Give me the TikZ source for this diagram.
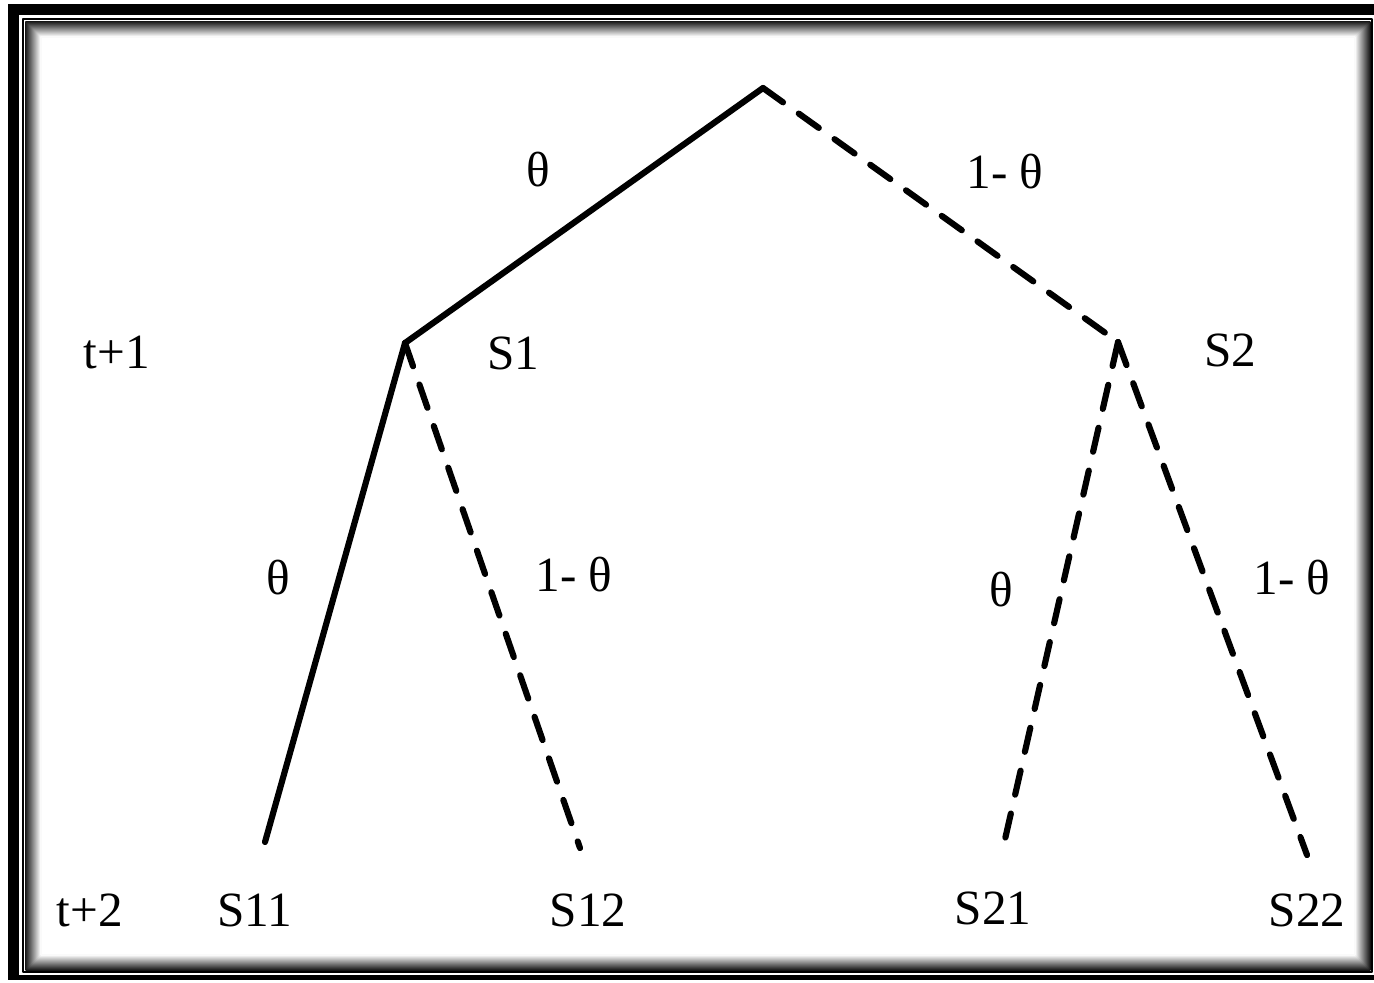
\documentclass[tikz,border=0pt]{standalone}
\usepackage{fontspec}
\setmainfont{Liberation Serif}
\usetikzlibrary{calc,positioning}

\tikzset{
  branch/.style={line width=1.75pt},
  branchdash/.style={branch, dash pattern=on 7pt off 5.5pt},
  lbl/.style={inner sep=0pt, font=\fontsize{14}{16}\selectfont}
}

\begin{document}
\begin{tikzpicture}[x=0.01cm, y=-0.01cm, line join=round, line cap=round]
    \useasboundingbox (0,0) rectangle (1374,982);
    % frame
    \fill[black] (8,4) rectangle (1390,980);
    \fill[white] (19,15) rectangle (1390,975);
    \draw[line width=0.6pt] (23,19) rectangle (1372,972);
    \foreach \i in {0,...,15}
      \draw[line width=0.013cm, black!\fpeval{92-6*\i}] (26+\i,22+\i) rectangle (1370-\i,970-\i);
    % tree
    \coordinate (root) at (763,88);
    \coordinate (s1) at (405,343);
    \coordinate (s2) at (1118,342);
    \coordinate (s11) at (265,842);
    \coordinate (s12) at (580,848);
    \coordinate (s21) at (1003,848);
    \coordinate (s22) at (1307,855);
    \draw[branch] (root) -- (s1);
    \draw[branchdash] (root) -- (s2);
    \draw[branch] (s1) -- (s11);
    \draw[branchdash] (s1) -- (s12);
    \draw[branchdash] (s2) -- (s21);
    \draw[branchdash] (s2) -- (s22);
    % labels
    \node[lbl] (p1) at (538,170) {θ};
    \node[lbl] (p2) at (1005,172) {1- θ};
    \node[lbl] (p11) at (278,578) {θ};
    \node[lbl] (p12) at (574,575) {1- θ};
    \node[lbl] (p21) at (1001,590) {θ};
    \node[lbl] (p22) at (1292,578) {1- θ};
    \node[lbl] (t1) at (117,352) {t+1};
    \node[lbl] (t2) at (90,910) {t+2};
    \node[lbl] (n1) at (513,353) {S1};
    \node[lbl] (n2) at (1230,350) {S2};
    \node[lbl] (n11) at (255,910) {S11};
    \node[lbl] (n12) at (588,910) {S12};
    \node[lbl] (n21) at (993,908) {S21};
    \node[lbl] (n22) at (1307,910) {S22};
  \end{tikzpicture}
\end{document}
